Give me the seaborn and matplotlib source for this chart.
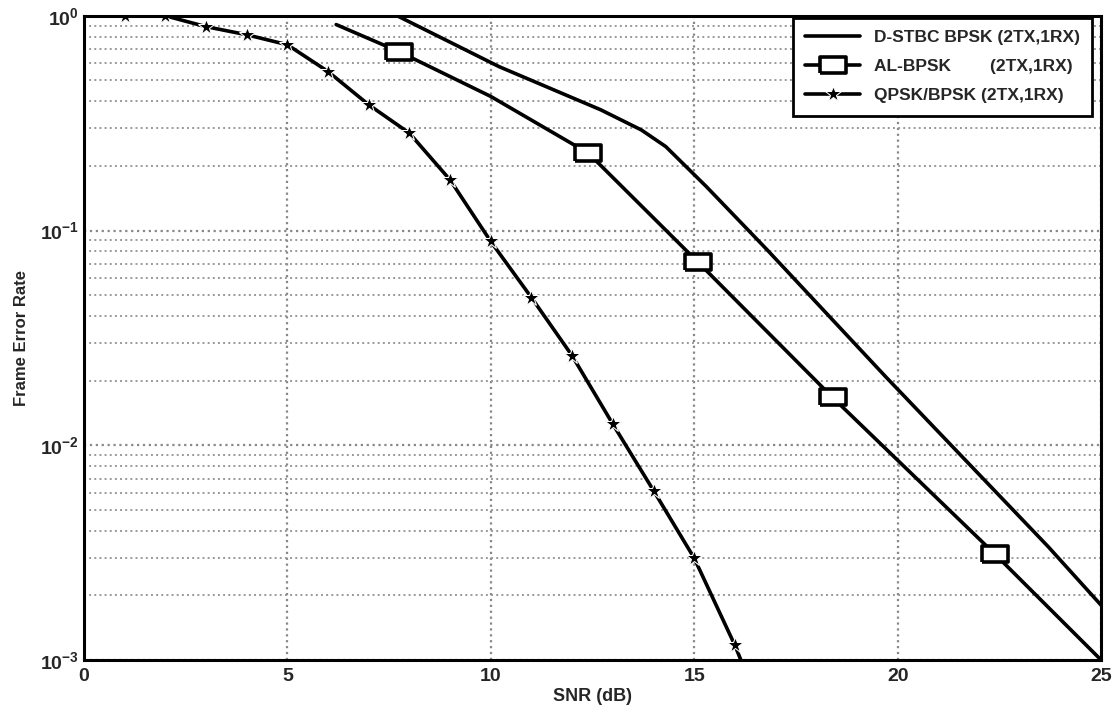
import numpy as np
import matplotlib.pyplot as plt
import seaborn as sns
from matplotlib.ticker import LogLocator, NullFormatter, MultipleLocator

# data
snr_dstbc = [7.7, 10.2, 12.7, 13.7, 14.3, 15.3, 16.8, 19.7, 23.7, 25.0]
fer_dstbc = [1.0, 0.58, 0.365, 0.294, 0.246, 0.160, 0.081, 0.0209, 0.00337, 0.0018]

snr_al = [6.2, 7.75, 10.0, 12.4, 15.1, 18.4, 22.4, 25.0]
fer_al = [0.91, 0.68, 0.421, 0.229, 0.071, 0.0167, 0.0031, 0.001]
al_marks = [1, 3, 4, 5, 6]

snr_qpsk = [0, 1, 2, 3, 4, 5, 6, 7, 8, 9, 10, 11, 12, 13, 14, 15, 16, 17]
fer_qpsk = [1.0, 1.0, 1.0, 0.89, 0.816, 0.733, 0.55, 0.385, 0.284, 0.172, 0.0889,
            0.0487, 0.0261, 0.01254, 0.00615, 0.00298, 0.00117, 0.0004]

labels = ["D-STBC BPSK (2TX,1RX)", "AL-BPSK        (2TX,1RX)", "QPSK/BPSK (2TX,1RX)"]

sns.set_style("white")
plt.rcParams['font.family'] = ['Liberation Sans', 'DejaVu Sans']
plt.rcParams['mathtext.fontset'] = 'dejavusans'

fig = plt.figure(figsize=(11.19, 7.17), dpi=100)
ax = fig.add_axes([0.075, 0.0795, 0.909, 0.8985])

rect = [(-1.6, -1), (1.6, -1), (1.6, 1), (-1.6, 1), (-1.6, -1)]

sns.lineplot(x=snr_dstbc, y=fer_dstbc, ax=ax, color='black', linewidth=2.6,
             label=labels[0], sort=False, estimator=None)
sns.lineplot(x=snr_al, y=fer_al, ax=ax, color='black', linewidth=2.6,
             marker=rect, markersize=19, markerfacecolor='white', markeredgecolor='black',
             markeredgewidth=2.6, markevery=al_marks, label=labels[1], sort=False, estimator=None)
sns.lineplot(x=snr_qpsk, y=fer_qpsk, ax=ax, color='black', linewidth=2.6,
             marker='*', markersize=12, markevery=list(range(1, 17)),
             label=labels[2], sort=False, estimator=None)

ax.set_yscale('log')
ax.set_xlim(0, 25)
ax.set_ylim(1e-3, 1)
ax.xaxis.set_major_locator(MultipleLocator(5))
ax.yaxis.set_major_locator(LogLocator(base=10, numticks=10))
ax.yaxis.set_minor_locator(LogLocator(base=10, subs=np.arange(2, 10), numticks=10))
ax.yaxis.set_minor_formatter(NullFormatter())

ax.grid(True, which='major', axis='both', color='#888888', linestyle=':', linewidth=1.6)
ax.grid(True, which='minor', axis='y', color='#999999', linestyle=':', linewidth=1.4)

ax.tick_params(axis='both', which='both', direction='in', width=2, color='black')
ax.tick_params(axis='both', which='major', length=7, labelsize=14)
ax.tick_params(axis='y', which='minor', length=4)
ax.tick_params(axis='x', which='major', pad=6)
for lab in ax.get_xticklabels() + ax.get_yticklabels():
    lab.set_fontweight('bold')
for s in ax.spines.values():
    s.set_color('black')
    s.set_linewidth(2.2)

ax.set_xlabel('SNR (dB)', fontsize=13, fontweight='bold', labelpad=2)
ax.set_ylabel('Frame Error Rate', fontsize=12, fontweight='bold', labelpad=8)

leg = ax.legend(loc='upper right', frameon=True, fancybox=False, prop={'weight': 'bold', 'size': 12.5},
                handlelength=3.2, borderpad=0.7, labelspacing=0.8,
                bbox_to_anchor=(1.0, 1.01))
leg.get_frame().set_edgecolor('black')
leg.get_frame().set_linewidth(2)
leg.get_frame().set_alpha(1)

fig.savefig('out.png', dpi=100)
